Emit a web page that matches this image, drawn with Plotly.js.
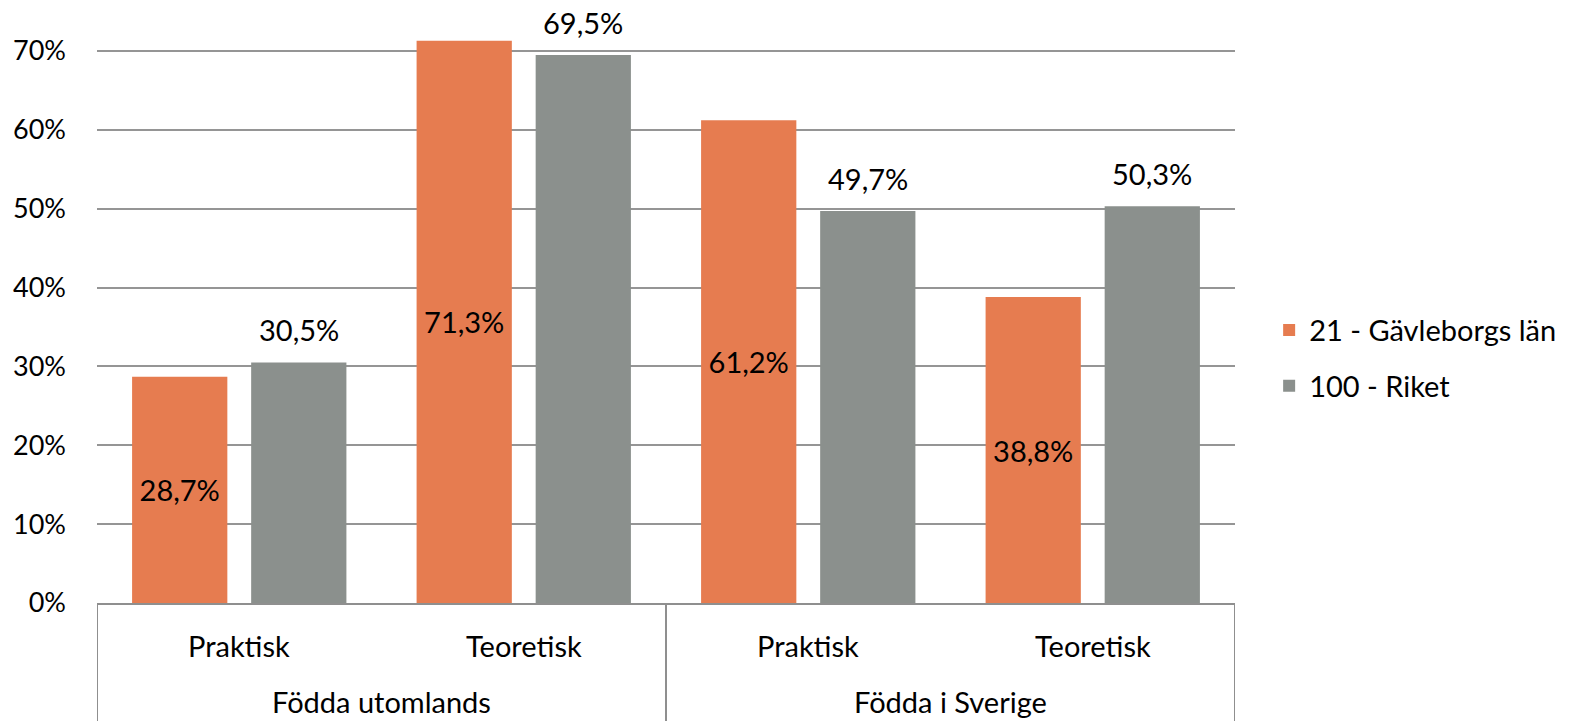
<!DOCTYPE html>
<html>
<head>
<meta charset="utf-8">
<script src="https://cdn.plot.ly/plotly-3.0.1.min.js"></script>
<style>html,body{margin:0;padding:0;background:#fff}#chart{width:1571px;height:721px}</style>
</head>
<body>
<div id="chart"></div>
<script>
const groups = ["Födda utomlands", "Födda utomlands", "Födda i Sverige", "Födda i Sverige"];
const subcats = ["Praktisk", "Teoretisk", "Praktisk", "Teoretisk"];
const seriesNames = ["21 - Gävleborgs län", "100 - Riket"];
const gavleborg = [28.7, 71.3, 61.2, 38.8];
const riket = [30.5, 69.5, 49.7, 50.3];
const yTicks = [0, 10, 20, 30, 40, 50, 60, 70];

const fmt = v => v.toFixed(1).replace('.', ',') + '%';
const FONT = 'Lato, "Open Sans", sans-serif';
const FS = 29;
const AXC = '#8f8f8f';
const BARGAP = 0.163;

const keys = groups.map((g, i) => g + ' | ' + subcats[i]);
const idx = keys.map((_, i) => i);

const traces = [
  {
    type: 'bar', name: seriesNames[0], legendgroup: 'a', x: keys, y: gavleborg,
    marker: {color: '#E67C50'},
    text: gavleborg.map(fmt), textposition: 'inside', insidetextanchor: 'middle',
    textfont: {family: FONT, size: FS, color: '#000'}, hoverinfo: 'y'
  },
  {
    type: 'bar', name: seriesNames[1], legendgroup: 'b', x: keys, y: riket,
    marker: {color: '#8B908D'}, hoverinfo: 'y'
  }
];

const annotations = [];
const shapes = [];
// values above gray bars
const grayOffset = (1 - BARGAP) / 4;
riket.forEach((v, i) => annotations.push({
  xref: 'x', yref: 'y', x: i + grayOffset, y: v, text: fmt(v),
  showarrow: false, yanchor: 'bottom', yshift: 13,
  font: {family: FONT, size: FS, color: '#000'}
}));
// sub-category labels
subcats.forEach((s, i) => annotations.push({
  xref: 'x', yref: 'paper', x: i, y: -0.0697, text: s,
  showarrow: false, yanchor: 'middle',
  font: {family: FONT, size: FS, color: '#000'}
}));
// group labels and dividers
const groupNames = [...new Set(groups)];
shapes.push({type: 'line', xref: 'x', yref: 'paper', x0: -0.5, x1: -0.5, y0: 0, y1: -0.2,
             line: {color: AXC, width: 2}});
groupNames.forEach(g => {
  const ids = idx.filter(i => groups[i] === g);
  const first = Math.min(...ids), last = Math.max(...ids);
  annotations.push({
    xref: 'x', yref: 'paper', x: (first + last) / 2, y: -0.1635, text: g,
    showarrow: false, yanchor: 'middle', borderpad: 0,
    font: {family: FONT, size: FS, color: '#000'}
  });
  shapes.push({type: 'line', xref: 'x', yref: 'paper', x0: last + 0.5, x1: last + 0.5, y0: 0, y1: -0.2,
               line: {color: AXC, width: 2}});
});

const layout = {
  width: 1571, height: 721,
  margin: {l: 97, r: 336, t: 0, b: 118},
  paper_bgcolor: '#fff', plot_bgcolor: '#fff',
  font: {family: FONT, size: FS, color: '#000'},
  barmode: 'group', bargap: BARGAP, bargroupgap: 0.2,
  showlegend: true,
  legend: {x: 1.03, y: 0.406, xanchor: 'left', yanchor: 'middle',
           font: {family: FONT, size: FS, color: '#000'}, tracegroupgap: 15},
  xaxis: {
    type: 'category', range: [-0.5, 3.5],
    showline: true, linecolor: AXC, linewidth: 2,
    showticklabels: false, ticks: '', showgrid: false, fixedrange: true
  },
  yaxis: {
    range: [0, 76.46], tickvals: yTicks, ticktext: yTicks.map(v => v + '%'),
    showgrid: true, gridcolor: '#959595', gridwidth: 2,
    zeroline: false, showline: false, ticks: '',
    ticklabelstandoff: 30,
    tickfont: {family: FONT, size: 27, color: '#000'}, fixedrange: true
  },
  annotations: annotations,
  shapes: shapes
};

Plotly.newPlot('chart', traces, layout, {displayModeBar: false, staticPlot: true});
</script>
</body>
</html>
